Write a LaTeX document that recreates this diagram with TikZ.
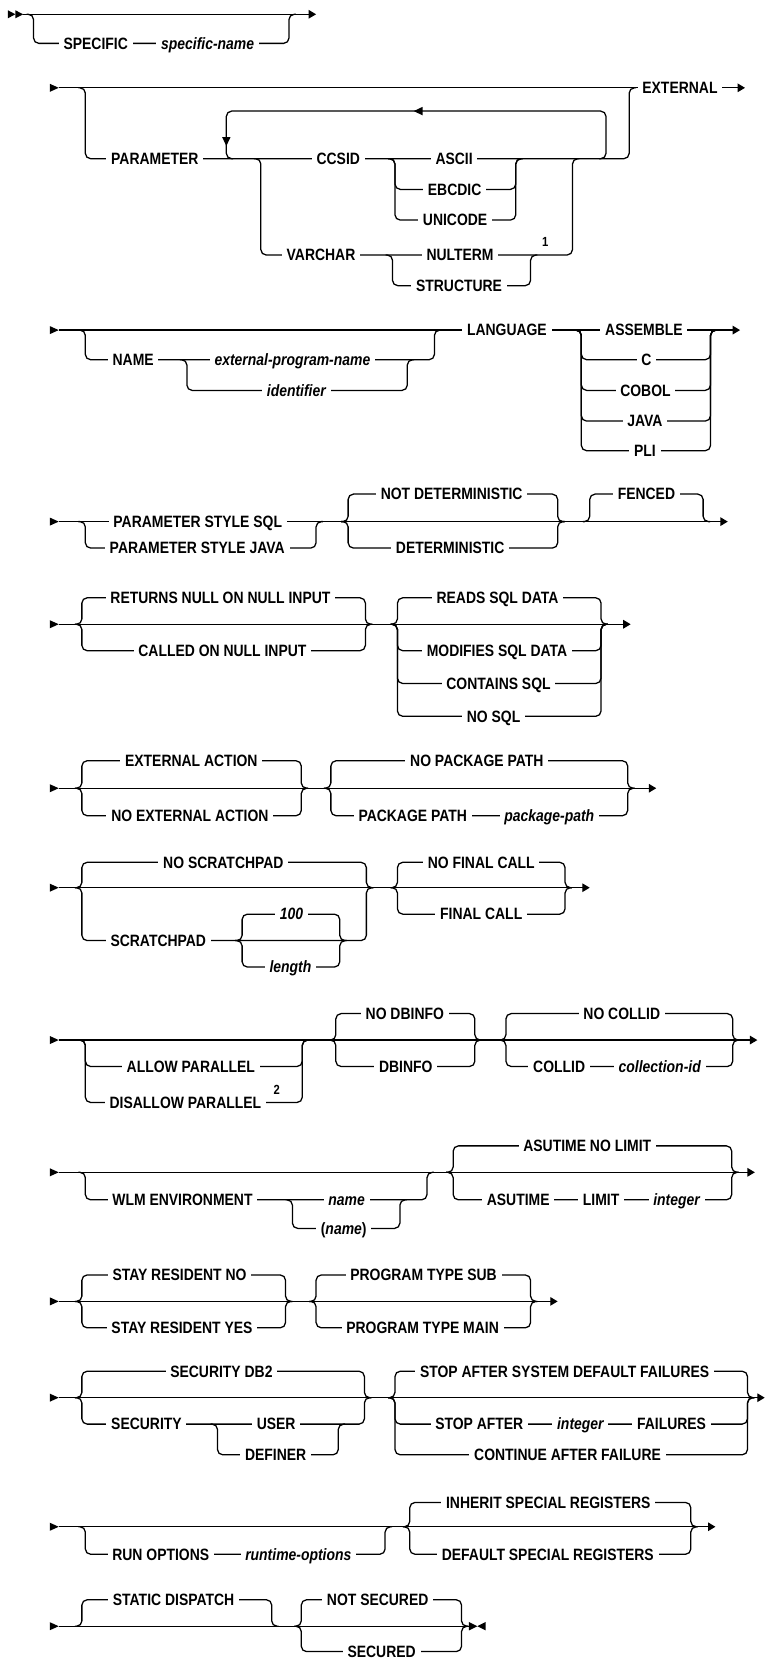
\documentclass[tikz,border=0pt]{standalone}
\usepackage{fontspec}
\setmainfont{Liberation Sans}[FakeStretch=0.85]
\usetikzlibrary{arrows.meta}
\newcommand\kwsize{\fontsize{15.5}{18}\selectfont\bfseries}
\newcommand\supsize{\fontsize{12.5}{14}\selectfont\bfseries}
\newcommand\rralt[4]{\draw[rc] (#1-14,#3) -- (#1,#3) -- (#1,#4) -- (#2,#4) -- (#2,#3) -- (#2+14,#3);}
\newcommand\rrstart[1]{\fill (100,#1-3.8) -- (118,#1) -- (100,#1+3.8) -- cycle;}
\newcommand\rrmain[2]{\draw[endarrow] (118,#1) -- (#2,#1);}
\tikzset{
  rc/.style={rounded corners=5pt},
  endarrow/.style={-{Triangle[length=7pt,width=8pt]}},
  kwd/.style={fill=white, inner xsep=4.5pt, inner ysep=0pt, text height=11pt, text depth=0pt, font=\kwsize},
  vname/.style={kwd, font=\kwsize\itshape},
  supnum/.style={inner sep=0pt, font=\supsize},
}
\begin{document}
\begin{tikzpicture}[x=0.466pt, y=-1pt, line width=1.2pt]
\path[use as bounding box] (-1.07,0) rectangle (1567.6,1568);

% ---------- Row 1 ----------
\fill (15,9.7) -- (30,13.5) -- (15,17.3) -- cycle;
\fill (30,9.7) -- (46,13.5) -- (30,17.3) -- cycle;
\draw[endarrow] (46,13.5) -- (640,13.5);
\rralt{67}{585}{13.5}{41}
\node[kwd] (specific) at (193,41) {SPECIFIC};
\node[vname] (specname) at (420,41) {specific-name};

% ---------- Row 2 ----------
\rrstart{83}
\rrmain{83}{1510}
\rralt{172}{1275}{83}{150}
\draw[rc] (1214,150) -- (1228,150) -- (1228,105) -- (458,105) -- (458,150) -- (472,150);
\fill (838,105) -- (856,101) -- (856,109) -- cycle;
\fill (458,138) -- (449.4,129.5) -- (466.6,129.5) -- cycle;
\rralt{528}{1160}{150}{241}
\rralt{800}{1045}{150}{179}
\rralt{800}{1045}{150}{208}
\rralt{795}{1075}{241}{270}
\node[kwd] (parameter) at (313,150) {PARAMETER};
\node[kwd] (ccsid) at (685,150) {CCSID};
\node[kwd] (ascii) at (920,150) {ASCII};
\node[kwd] (ebcdic) at (921,179) {EBCDIC};
\node[kwd] (unicode) at (922,208) {UNICODE};
\node[kwd] (varchar) at (650,241) {VARCHAR};
\node[kwd] (nulterm) at (932,241) {NULTERM};
\node[kwd] (structure) at (930,270) {STRUCTURE};
\node[supnum] (note1) at (1105,229) {1};
\node[kwd] (external) at (1378,83) {EXTERNAL};

% ---------- Row 3 ----------
\rrstart{312}
\rrmain{312}{1500}
\rralt{172}{880}{312}{340}
\rralt{378}{825}{340}{369}
\rralt{1178}{1440}{312}{340}
\rralt{1178}{1440}{312}{369}
\rralt{1178}{1440}{312}{398}
\rralt{1178}{1440}{312}{426}
\node[kwd] (name) at (269,340) {NAME};
\node[vname] (extprog) at (592,340) {external-program-name};
\node[vname] (ident) at (600,369) {identifier};
\node[kwd] (language) at (1027,312) {LANGUAGE};
\node[kwd] (assemble) at (1305,312) {ASSEMBLE};
\node[kwd] (langc) at (1310,340) {C};
\node[kwd] (cobol) at (1308,369) {COBOL};
\node[kwd] (java) at (1307,398) {JAVA};
\node[kwd] (pli) at (1307,426) {PLI};

% ---------- Row 4 ----------
\rrstart{493}
\rrmain{493}{1475}
\rralt{172}{640}{493}{518}
\rralt{705}{1130}{493}{467}
\rralt{705}{1130}{493}{518}
\rralt{1195}{1425}{493}{467}
\node[kwd] (pssql) at (400,493) {PARAMETER STYLE SQL};
\node[kwd] (psjava) at (399,518) {PARAMETER STYLE JAVA};
\node[kwd] (notdet) at (915,467) {NOT DETERMINISTIC};
\node[kwd] (det) at (912,518) {DETERMINISTIC};
\node[kwd] (fenced) at (1310,467) {FENCED};

% ---------- Row 5 ----------
\rrstart{590}
\rrmain{590}{1278}
\rralt{165}{740}{590}{565}
\rralt{165}{740}{590}{615}
\rralt{805}{1218}{590}{565}
\rralt{805}{1218}{590}{615}
\rralt{805}{1218}{590}{646}
\rralt{805}{1218}{590}{677}
\node[kwd] (returns) at (446,565) {RETURNS NULL ON NULL INPUT};
\node[kwd] (called) at (450,615) {CALLED ON NULL INPUT};
\node[kwd] (reads) at (1008,565) {READS SQL DATA};
\node[kwd] (modifies) at (1007,615) {MODIFIES SQL DATA};
\node[kwd] (contains) at (1010,646) {CONTAINS SQL};
\node[kwd] (nosql) at (1000,677) {NO SQL};

% ---------- Row 6 ----------
\rrstart{745}
\rrmain{745}{1330}
\rralt{165}{610}{745}{719}
\rralt{165}{610}{745}{771}
\rralt{670}{1272}{745}{719}
\rralt{670}{1272}{745}{771}
\node[kwd] (extact) at (387,719) {EXTERNAL ACTION};
\node[kwd] (noextact) at (384,771) {NO EXTERNAL ACTION};
\node[kwd] (nopkg) at (966,719) {NO PACKAGE PATH};
\node[kwd] (pkgpath) at (836,771) {PACKAGE PATH};
\node[vname] (pkgpathv) at (1113,771) {package-path};

% ---------- Row 7 ----------
\rrstart{839}
\rrmain{839}{1195}
\rralt{165}{742}{839}{815}
\rralt{165}{742}{839}{889}
\rralt{490}{688}{889}{864}
\rralt{490}{688}{889}{914}
\rralt{805}{1145}{839}{815}
\rralt{805}{1145}{839}{864}
\node[kwd] (noscr) at (452,815) {NO SCRATCHPAD};
\node[kwd] (scr) at (320,889) {SCRATCHPAD};
\node[vname] (hundred) at (590,864) {100};
\node[vname] (length) at (588,914) {length};
\node[kwd] (nofinal) at (975,815) {NO FINAL CALL};
\node[kwd] (final) at (975,864) {FINAL CALL};

% ---------- Row 8 ----------
\rrstart{983}
\rrmain{983}{1535}
\rralt{172}{612}{983}{1008}
\rralt{172}{612}{983}{1042}
\rralt{680}{962}{983}{958}
\rralt{680}{962}{983}{1008}
\rralt{1025}{1485}{983}{958}
\rralt{1025}{1485}{983}{1008}
\node[kwd] (allow) at (386,1008) {ALLOW PARALLEL};
\node[kwd] (disallow) at (375,1042) {DISALLOW PARALLEL};
\node[supnum] (note2) at (560,1030) {2};
\node[kwd] (nodbinfo) at (820,958) {NO DBINFO};
\node[kwd] (dbinfo) at (822,1008) {DBINFO};
\node[kwd] (nocollid) at (1260,958) {NO COLLID};
\node[kwd] (collid) at (1133,1008) {COLLID};
\node[vname] (collidv) at (1337,1008) {collection-id};

% ---------- Row 9 ----------
\rrstart{1108}
\rrmain{1108}{1530}
\rralt{172}{865}{1108}{1134}
\rralt{592}{810}{1134}{1161}
\rralt{918}{1483}{1108}{1083}
\rralt{918}{1483}{1108}{1134}
\node[kwd] (wlm) at (369,1134) {WLM ENVIRONMENT};
\node[vname] (wlmname) at (702,1134) {name};
\node[kwd] (wlmpname) at (696,1161) {(\textit{name})};
\node[kwd] (asunolimit) at (1190,1083) {ASUTIME NO LIMIT};
\node[kwd] (asutime) at (1050,1134) {ASUTIME};
\node[kwd] (limit) at (1218,1134) {LIMIT};
\node[vname] (asuint) at (1371,1134) {integer};

% ---------- Row 10 ----------
\rrstart{1230}
\rrmain{1230}{1130}
\rralt{165}{578}{1230}{1205}
\rralt{165}{578}{1230}{1255}
\rralt{640}{1075}{1230}{1205}
\rralt{640}{1075}{1230}{1255}
\node[kwd] (stayno) at (363,1205) {STAY RESIDENT NO};
\node[kwd] (stayyes) at (368,1255) {STAY RESIDENT YES};
\node[kwd] (ptsub) at (858,1205) {PROGRAM TYPE SUB};
\node[kwd] (ptmain) at (856,1255) {PROGRAM TYPE MAIN};

% ---------- Row 11 ----------
\rrstart{1321}
\rrmain{1321}{1550}
\rralt{165}{738}{1321}{1296}
\rralt{165}{738}{1321}{1346}
\rralt{440}{685}{1346}{1375}
\rralt{800}{1515}{1321}{1296}
\rralt{800}{1515}{1321}{1346}
\rralt{800}{1515}{1321}{1375}
\node[kwd] (secdb2) at (448,1296) {SECURITY DB2};
\node[kwd] (security) at (296,1346) {SECURITY};
\node[kwd] (user) at (559,1346) {USER};
\node[kwd] (definer) at (558,1375) {DEFINER};
\node[kwd] (stopsys) at (1144,1296) {STOP AFTER SYSTEM DEFAULT FAILURES};
\node[kwd] (stopafter) at (971,1346) {STOP AFTER};
\node[vname] (stopint) at (1176,1346) {integer};
\node[kwd] (failures) at (1361,1346) {FAILURES};
\node[kwd] (continue) at (1150,1375) {CONTINUE AFTER FAILURE};

% ---------- Row 12 ----------
\rrstart{1443}
\rrmain{1443}{1450}
\rralt{172}{780}{1443}{1469}
\rralt{830}{1400}{1443}{1420}
\rralt{830}{1400}{1443}{1469}
\node[kwd] (runopt) at (325,1469) {RUN OPTIONS};
\node[vname] (runoptv) at (604,1469) {runtime-options};
\node[kwd] (inherit) at (1111,1420) {INHERIT SPECIAL REGISTERS};
\node[kwd] (default) at (1110,1469) {DEFAULT SPECIAL REGISTERS};

% ---------- Row 13 ----------
\rrstart{1537}
\draw (118,1537) -- (950,1537);
\fill (950,1533) -- (967,1537) -- (950,1541) -- cycle;
\fill (984,1533) -- (967,1537) -- (984,1541) -- cycle;
\rralt{165}{550}{1537}{1512}
\rralt{610}{935}{1537}{1512}
\rralt{610}{935}{1537}{1561}
\node[kwd] (static) at (351,1512) {STATIC DISPATCH};
\node[kwd] (notsec) at (765,1512) {NOT SECURED};
\node[kwd] (secured) at (773,1561) {SECURED};
\end{tikzpicture}
\end{document}
